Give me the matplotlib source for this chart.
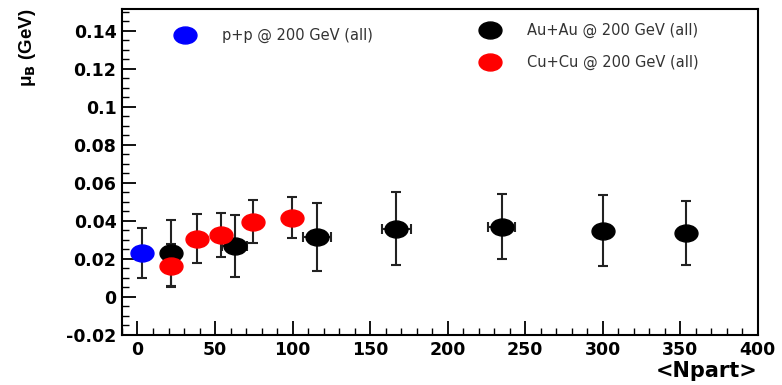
import numpy as np
import matplotlib
matplotlib.use("Agg")
import matplotlib.pyplot as plt
from matplotlib.path import Path
from matplotlib.transforms import Affine2D
from matplotlib.ticker import MultipleLocator

plt.rcParams['font.family'] = ['DejaVu Sans']

# Data
pp_npart = [2.6]
pp_mu = [0.0232]
pp_err = [0.013]

au_npart = [21.3, 62.6, 115.9, 167.0, 234.8, 300.2, 353.5]
au_mu = [0.0232, 0.0268, 0.0314, 0.0358, 0.0370, 0.0349, 0.0337]
au_err = [0.0172, 0.0163, 0.0178, 0.0192, 0.0170, 0.0188, 0.0169]
au_xerr = [0, 8, 9, 9.5, 8.5, 0, 0]

cu_npart = [21.7, 38.5, 54.0, 74.4, 99.4]
cu_mu = [0.0165, 0.0307, 0.0326, 0.0395, 0.0417]
cu_err = [0.0111, 0.0127, 0.0115, 0.0113, 0.0108]

legend_labels = ["p+p @ 200 GeV (all)", "Au+Au @ 200 GeV (all)", "Cu+Cu @ 200 GeV (all)"]
xticks = list(range(0, 401, 50))
yticks = [-0.02, 0, 0.02, 0.04, 0.06, 0.08, 0.1, 0.12, 0.14]
ytick_labels = ['-0.02', '0', '0.02', '0.04', '0.06', '0.08', '0.1', '0.12', '0.14']

ell = Path.unit_circle().transformed(Affine2D().scale(1.0, 0.74))

fig = plt.figure(figsize=(7.82, 3.85), dpi=100)
ax = fig.add_axes([0.156, 0.130, 0.813, 0.847])

ecol = '#222222'
def draw(x, y, e, c, xe=None):
    ax.errorbar(x, y, yerr=e, xerr=xe, fmt='none', ecolor=ecol, elinewidth=1.5,
                capsize=3.5, capthick=1.5, zorder=2)
    ax.plot(x, y, ls='none', marker=ell, ms=16.5, color=c, mec=c, zorder=3)

draw(pp_npart, pp_mu, pp_err, '#0000ff')
draw(au_npart, au_mu, au_err, '#000000', au_xerr)
draw(cu_npart, cu_mu, cu_err, '#ff0000')

ax.set_xlim(-10, 400)
ax.set_ylim(-0.02, 0.1516)
ax.xaxis.set_minor_locator(MultipleLocator(10))
ax.yaxis.set_minor_locator(MultipleLocator(0.005))
ax.set_yticks(yticks)
ax.set_yticklabels(ytick_labels)
ax.set_xticks(xticks)
ax.set_xticklabels([str(v) for v in xticks])

ax.tick_params(which='major', direction='in', length=10, width=1.3, labelsize=12.5, pad=4)
ax.tick_params(which='minor', direction='in', length=5, width=1.0)
ax.tick_params(top=False, right=False)
for lab in ax.get_xticklabels() + ax.get_yticklabels():
    lab.set_fontweight('bold')
for s in ax.spines.values():
    s.set_linewidth(1.5)

ax.set_xlabel('<Npart>', fontsize=15, fontweight='bold', loc='right', labelpad=2)
ax.set_ylabel(r'μ$_{\mathbf{B}}$ (GeV)', fontsize=13.5, fontweight='bold',
              family=['Liberation Sans', 'DejaVu Sans'], loc='top')
ax.yaxis.set_label_coords(-0.132, 1.0)

# Legend entries (manual, as in ROOT)
leg = [(185, 35, '#0000ff', legend_labels[0]),
       (490, 30, '#000000', legend_labels[1]),
       (490, 62, '#ff0000', legend_labels[2])]
for px, py, c, t in leg:
    fx, fy = px / 782, 1 - py / 385
    fig.lines.append(plt.Line2D([fx], [fy], transform=fig.transFigure, ls='none',
                                marker=ell, ms=16.5, color=c))
    fig.text(fx + 37 / 782, fy, t, fontsize=10.5, color='#333333', va='center', ha='left')

fig.savefig('out.png', dpi=100)
